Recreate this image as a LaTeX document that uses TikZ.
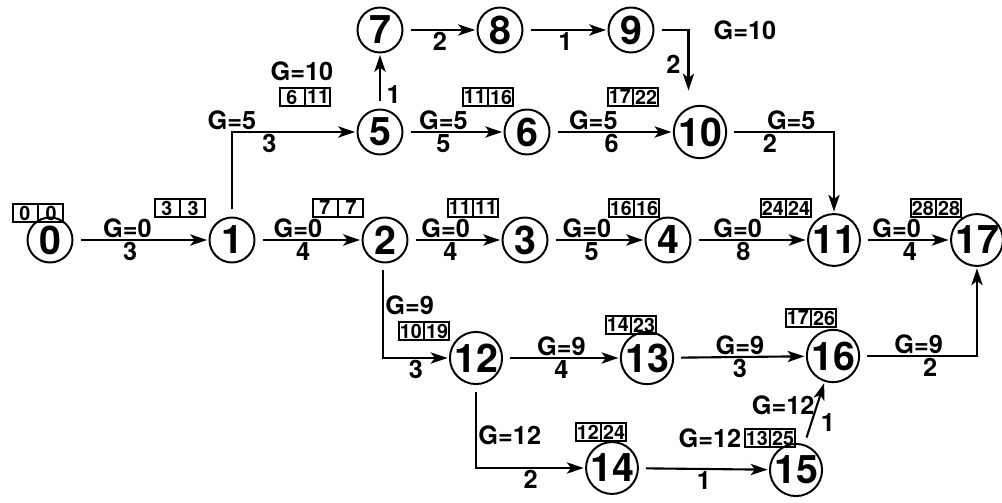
\documentclass[tikz,border=0pt]{standalone}
\usepackage{fontspec}
\setmainfont{TeX Gyre Heros}
\usetikzlibrary{positioning}
\usetikzlibrary{arrows.meta}
\usetikzlibrary{shapes.multipart}

% one cell of a time box
\newcommand{\tcell}[1]{\makebox[15pt]{#1}}

\begin{document}
\begin{tikzpicture}[x=0.025cm, y=-0.025cm, line width=1.5pt,
    ev/.style={circle, draw, line width=1.4pt, minimum size=32pt, inner sep=0pt, font=\fontsize{28}{28}\selectfont\bfseries},
    tb/.style={rectangle split, rectangle split horizontal, rectangle split parts=2, draw, line width=1.3pt, inner xsep=1.2pt, inner ysep=1.2pt, font=\fontsize{14}{14}\selectfont\bfseries},
    lbl/.style={font=\fontsize{18}{18}\selectfont\bfseries, inner sep=1pt},
    act/.style={-{Stealth[length=12pt,width=8pt,inset=3pt]}, shorten <=5pt, shorten >=1pt}]
        \fill[white] (0,0) rectangle (1002,503);
        \useasboundingbox (0,0) rectangle (1002,503);

        % events
        \node[ev] (v0) at (50,240) {0};
        \node[ev] (v1) at (232,240) {1};
        \node[ev] (v2) at (385,240) {2};
        \node[ev] (v3) at (525,240) {3};
        \node[ev] (v4) at (668,240) {4};
        \node[ev] (v11) at (834,240) {11};
        \node[ev] (v17) at (977,240) {17};

        \node[ev] (v5) at (380,132) {5};
        \node[ev] (v6) at (527,132) {6};
        \node[ev] (v10) at (700,132) {10};
        \node[ev] (v7) at (380,30) {7};
        \node[ev] (v8) at (500,30) {8};
        \node[ev] (v9) at (631,30) {9};

        \node[ev] (v12) at (476,358) {12};
        \node[ev] (v13) at (647,358) {13};
        \node[ev] (v16) at (833,356) {16};
        \node[ev] (v14) at (612,468) {14};
        \node[ev] (v15) at (796,470) {15};

        % early / late times
        \node[tb] (t0) at (38,213) {\tcell{0}\nodepart{two}\tcell{0}};
        \node[tb] (t1) at (180,208) {\tcell{3}\nodepart{two}\tcell{3}};
        \node[tb] (t2) at (338,208) {\tcell{7}\nodepart{two}\tcell{7}};
        \node[tb] (t3) at (473,208) {\tcell{11}\nodepart{two}\tcell{11}};
        \node[tb] (t4) at (634,208) {\tcell{16}\nodepart{two}\tcell{16}};
        \node[tb] (t11) at (786,208) {\tcell{24}\nodepart{two}\tcell{24}};
        \node[tb] (t17) at (936,208) {\tcell{28}\nodepart{two}\tcell{28}};
        \node[tb] (t5) at (305,97) {\tcell{6}\nodepart{two}\tcell{11}};
        \node[tb] (t6) at (488,97) {\tcell{11}\nodepart{two}\tcell{16}};
        \node[tb] (t10) at (633,97) {\tcell{17}\nodepart{two}\tcell{22}};
        \node[tb] (t12) at (424,331) {\tcell{10}\nodepart{two}\tcell{19}};
        \node[tb] (t13) at (631,325) {\tcell{14}\nodepart{two}\tcell{23}};
        \node[tb] (t16) at (811,318) {\tcell{17}\nodepart{two}\tcell{26}};
        \node[tb] (t14) at (601,432) {\tcell{12}\nodepart{two}\tcell{24}};
        \node[tb] (t15) at (770,438) {\tcell{13}\nodepart{two}\tcell{25}};

        % free float labels
        \node[lbl] (g7) at (302,71) {G=10};
        \node[lbl] (g9) at (745,30) {G=10};
        \node[lbl] (g15) at (710,438) {G=12};

        % critical chain
        \draw[act] (v0) -- (v1) node[lbl, pos=0.4, above] {G=0} node[lbl, pos=0.42, below] {3};
        \draw[act] (v1) -- (v2) node[lbl, pos=0.4, above] {G=0} node[lbl, pos=0.45, below] {4};
        \draw[act] (v2) -- (v3) node[lbl, pos=0.4, above] {G=0} node[lbl, pos=0.45, below] {4};
        \draw[act] (v3) -- (v4) node[lbl, pos=0.4, above] {G=0} node[lbl, pos=0.45, below] {5};
        \draw[act] (v4) -- (v11) node[lbl, pos=0.4, above] {G=0} node[lbl, pos=0.45, below] {8};
        \draw[act] (v11) -- (v17) node[lbl, pos=0.4, above] {G=0} node[lbl, pos=0.55, below] {4};

        % upper branch
        \draw[act] (v1.north) |- (v5) node[lbl, pos=0.5, above] {G=5} node[lbl, pos=0.65, below] {3};
        \draw[act] (v5) -- (v6) node[lbl, pos=0.4, above] {G=5} node[lbl, pos=0.4, below] {5};
        \draw[act] (v6) -- (v10) node[lbl, pos=0.35, above] {G=5} node[lbl, pos=0.5, below] {6};
        \draw[act] (v5) -- (v7) node[lbl, pos=0.25, right=3pt] {1};
        \draw[act] (v7) -- (v8) node[lbl, midway, below] {2};
        \draw[act] (v8) -- (v9) node[lbl, midway, below] {1};
        \draw[act, shorten >=12pt] (v9.east) -| (v10.115) node[lbl, pos=0.72, left=4pt] {2};
        \draw[act] (v10.east) -| (v11.north) node[lbl, pos=0.3, above] {G=5} node[lbl, pos=0.2, below] {2};

        % lower branch
        \draw[act] (v2.265) |- (v12) node[lbl, pos=0.22, right] {G=9} node[lbl, pos=0.75, below] {3};
        \draw[act] (v12) -- (v13) node[lbl, midway, above] {G=9} node[lbl, midway, below] {4};
        \draw[act] (v13) -- (v16) node[lbl, midway, above] {G=9} node[lbl, midway, below] {3};
        \draw[act] (v16.east) -| (v17.south) node[lbl, pos=0.25, above] {G=9} node[lbl, pos=0.3, below] {2};
        \draw[act] (v12.south) |- (v14) node[lbl, pos=0.3, right] {G=12} node[lbl, pos=0.75, below] {2};
        \draw[act] (v14) -- (v15) node[lbl, midway, below] {1};
        \draw[act] (v15) -- (v16) node[lbl, pos=0.62, left] {G=12} node[lbl, pos=0.35, right=5pt] {1};
      \end{tikzpicture}
\end{document}
